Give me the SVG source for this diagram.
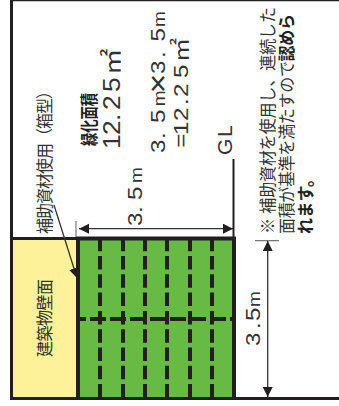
<svg xmlns="http://www.w3.org/2000/svg" width="339" height="406" viewBox="0 0 339 406">
<defs>
<marker id="a" markerUnits="userSpaceOnUse" markerWidth="11" markerHeight="11" refX="10" refY="5" orient="auto-start-reverse"><path d="M0 0L10 5L0 10Z" fill="#231f20"/></marker>
</defs>
<style>
text{font-family:"Liberation Sans","Noto Sans CJK JP",sans-serif;fill:#333;font-size:16px}
.b{font-weight:bold;fill:#231f20}
.d{font-size:21px}
.m{font-size:16.500px}
.frame{stroke:#231f20;fill:none}
.grid{stroke:#231f20;stroke-width:4;fill:none}
.dim{stroke:#333;stroke-width:1.3;fill:none}
.tick{stroke:#777;stroke-width:1.2;fill:none}
</style>
<rect width="339" height="406" fill="#fff"/>
<g id="wall">
<rect x="13" y="238" width="64" height="160" fill="#fdf29a"/>
<text transform="translate(50.500,357) rotate(-90) scale(1,1.06)" textLength="78" lengthAdjust="spacing">建築物壁面</text>
</g>
<g id="green">
<rect x="78" y="238" width="156" height="160" fill="#67bb45"/>
<path class="grid" d="M100 237.700V398M123 237.700V398M145 237.700V398M167 237.700V398M190 237.700V398M212 237.700V398" stroke-dasharray="13.500 4.800"/>
<path class="grid" d="M78 319H233" stroke-dasharray="16 4" stroke-dashoffset="8"/>
<path class="frame" stroke-width="3" d="M13 238.500H77"/>
<path class="frame" stroke-width="4" d="M78 398V238.500H234V398"/>
</g>
<g id="frame">
<path class="frame" stroke-width="3" d="M11.500 0V400"/>
<path class="frame" stroke-width="3" d="M10 398.500H339"/>
<path class="frame" stroke-width="1.500" d="M10 0.500H339"/>
<path class="frame" stroke-width="2" d="M233.500 159V238"/>
</g>
<g id="connectors">
<path class="tick" d="M76 221V237M255 240.700H279"/>
<path class="dim" d="M79 228.700H233" marker-start="url(#a)" marker-end="url(#a)"/>
<path class="dim" d="M267.700 241V397" marker-start="url(#a)" marker-end="url(#a)"/>
<path class="dim" d="M54 205L77 278" marker-end="url(#a)"/>
</g>
<g id="labels">
<text transform="translate(50.500,234) rotate(-90) scale(1,1.06)" textLength="151" lengthAdjust="spacing">補助資材使用（箱型）</text>
<text class="d" transform="translate(142,226) rotate(-90) scale(1.15,1)" x="0 11.300 13.900 22.600">3. 5<tspan class="m" x="37.400">m</tspan></text>
<text class="b" style="font-size:18px" transform="translate(96,146) rotate(-90)" textLength="53" lengthAdjust="spacingAndGlyphs">緑化面積</text>
<text class="d" style="font-size:23px" transform="translate(119.500,149) rotate(-90) scale(1.15,1)" x="0 12.200 24.300 27.800 33.900 49.600 64.300">12. 25㎡</text>
<text class="d" transform="translate(164.500,153) rotate(-90) scale(1.15,1)" x="0 12.200 15.700 26.100">3. 5<tspan class="m" x="40.600">m</tspan><tspan x="52" dy="3" style="font-size:29px">×</tspan><tspan x="68.700 82.600 85.200 97" dy="-3">3. 5</tspan><tspan class="m" x="109.600">m</tspan></text>
<text class="d" transform="translate(187.500,149) rotate(-90) scale(1.15,1)" x="1 12.200 24.300 38.300 41.700 45.200 61.700 75.700">=12. 25㎡</text>
<text class="d" transform="translate(232,155) rotate(-90)" x="0 18">GL</text>
<text transform="translate(273.500,234) rotate(-90) scale(1,1.06)" textLength="227" lengthAdjust="spacing">※ 補助資材を使用し、連続した</text>
<text transform="translate(293,234) rotate(-90) scale(1,1.06)" textLength="220" lengthAdjust="spacing">面積が基準を満たすので<tspan class="b">認めら</tspan></text>
<text class="b" transform="translate(312,234) rotate(-90) scale(1,1.06)" textLength="63" lengthAdjust="spacing">れます。</text>
<text class="d" transform="translate(260,346) rotate(-90) scale(1.15,1)" x="0 14.800 17.400 21.700">3. 5<tspan class="m" x="33.900">m</tspan></text>
</g>
</svg>
